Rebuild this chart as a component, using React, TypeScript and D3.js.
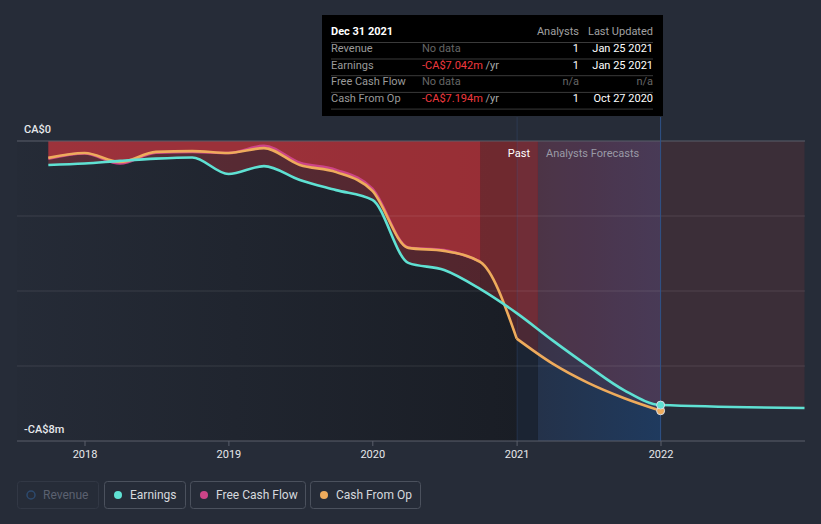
import React from 'react';
import * as d3 from 'd3';

// ---- data (values in CA$ millions) ----
const earningsDates = ['2017-09-30','2017-12-31','2018-03-31','2018-06-30','2018-09-30','2018-12-31','2019-03-31','2019-06-30','2019-09-30','2019-12-31','2020-03-31','2020-06-30','2020-09-30','2020-12-31','2021-03-31','2021-06-30','2021-09-30','2021-12-31','2022-12-31'];
const earningsValues = [-0.64,-0.6,-0.53,-0.47,-0.44,-0.88,-0.67,-1.04,-1.31,-1.57,-3.25,-3.44,-3.95,-4.59,-5.31,-6.0,-6.65,-7.042,-7.12];

const fcfDates = ['2017-09-30','2017-12-31','2018-03-31','2018-06-30','2018-09-30','2018-12-31','2019-03-31','2019-06-30','2019-09-30','2019-12-31','2020-03-31','2020-06-30','2020-09-30'];
const fcfValues = [-0.47,-0.33,-0.6,-0.31,-0.29,-0.32,-0.13,-0.58,-0.77,-1.27,-2.84,-2.91,-3.21];

const cfoDates = ['2017-09-30','2017-12-31','2018-03-31','2018-06-30','2018-09-30','2018-12-31','2019-03-31','2019-06-30','2019-09-30','2019-12-31','2020-03-31','2020-06-30','2020-09-30','2020-12-31','2021-03-31','2021-06-30','2021-09-30','2021-12-31'];
const cfoValues = [-0.45,-0.32,-0.56,-0.29,-0.27,-0.32,-0.19,-0.64,-0.83,-1.33,-2.85,-2.93,-3.23,-5.27,-5.93,-6.45,-6.86,-7.194];

const yearTicks = ['2018','2019','2020','2021','2022'];
const yTickValues = [0, -2, -4, -6, -8];
const yLabels = ['CA$0', '-CA$8m'];

const lastPastPoint = '2020-12-31';
const lastReported = '2020-09-30';
const yearStart2021 = '2021-01-01';
const today = '2021-02-23';
const hoverDate = '2021-12-31';

const legendItems = ['Revenue', 'Earnings', 'Free Cash Flow', 'Cash From Op'];

const tooltipRows = [
  { label: 'Revenue', value: 'No data', unit: '', analysts: '1', updated: 'Jan 25 2021', red: false, na: false },
  { label: 'Earnings', value: '-CA$7.042m', unit: ' /yr', analysts: '1', updated: 'Jan 25 2021', red: true, na: false },
  { label: 'Free Cash Flow', value: 'No data', unit: '', analysts: 'n/a', updated: 'n/a', red: false, na: true },
  { label: 'Cash From Op', value: '-CA$7.194m', unit: ' /yr', analysts: '1', updated: 'Oct 27 2020', red: true, na: false },
];

const C = {
  bg: '#262c38',
  earnings: '#5fe1d3',
  fcf: '#cc4488',
  cfo: '#eeab5c',
  red: '#e53b40',
  text: '#e6e8eb',
};

const parse = d3.timeParse('%Y-%m-%d');
type P = { d: Date; v: number };
const mk = (ds: string[], vs: number[]): P[] => ds.map((d, i) => ({ d: parse(d)!, v: vs[i] }));

export default function App() {
  const W = 821, H = 524;
  const left = 17, right = 805, top = 141, bottom = 441;
  const font = 'Roboto, "Open Sans", sans-serif';

  const x = d3.scaleTime()
    .domain([new Date(2018, 0, 1), new Date(2022, 0, 1)])
    .range([85, 661]);
  const y = d3.scaleLinear().domain([0, -8]).range([top, bottom]);

  const split = parse(lastPastPoint)!;
  const pieces = (pts: P[], doSplit: boolean) => {
    if (!doSplit) return [pts];
    const past = pts.filter(p => +p.d <= +split);
    const fc = pts.filter(p => +p.d >= +split);
    return fc.length > 1 ? [past, fc] : [past];
  };

  const earnings = mk(earningsDates, earningsValues);
  const fcf = mk(fcfDates, fcfValues);
  const cfo = mk(cfoDates, cfoValues);

  const line = d3.line<P>().x(p => x(p.d)).y(p => y(p.v)).curve(d3.curveMonotoneX);
  const area = d3.area<P>().x(p => x(p.d)).y0(y(0)).y1(p => y(p.v)).curve(d3.curveMonotoneX);

  const xLast = x(parse(lastReported)!);
  const x2021 = x(parse(yearStart2021)!);
  const xNow = x(parse(today)!);
  const xHover = x(parse(hoverDate)!);

  const eEnd = earnings.find(p => +p.d === +parse(hoverDate)!)!;
  const cEnd = cfo.find(p => +p.d === +parse(hoverDate)!)!;

  const E = { pts: earnings, color: C.earnings, split: false };
  const F = { pts: fcf, color: C.fcf, split: false };
  const O = { pts: cfo, color: C.cfo, split: true };

  const segments = [
    { id: 'segPast', x0: left, x1: xLast, op: 0.28, series: [E, F, O] },
    { id: 'segMid', x0: xLast, x1: xNow, op: 0.24, series: [E, O] },
    { id: 'segFc', x0: xNow, x1: right, op: 0.115, series: [E, O] },
  ];

  const legendBoxes = [
    { x: 17, w: 81 }, { x: 104, w: 81 }, { x: 190, w: 115 }, { x: 310, w: 110 },
  ];
  const legendColors = [null, C.earnings, C.fcf, C.cfo];

  const tx = 322, ty = 15, tw = 341, th = 101;
  const colLabel = 331, colValue = 422, colAnalysts = 579, colUpdated = 653;

  const lineSeries = [F, O, E];

  return (
    <svg width={W} height={H} style={{ position: 'absolute', left: 0, top: 0, display: 'block' }} fontFamily={font}>
      <defs>
        <linearGradient id="pastGrad" x1="0" x2="1" y1="0" y2="0">
          <stop offset="0" stopColor="#14171d" stopOpacity={0.05} />
          <stop offset="1" stopColor="#14171d" stopOpacity={0.7} />
        </linearGradient>
        <linearGradient id="fcGrad" x1="0" x2="1" y1="0" y2="0">
          <stop offset="0" stopColor="#24324a" />
          <stop offset="1" stopColor="#1f3a5e" />
        </linearGradient>
        {segments.map(s => (
          <clipPath id={s.id} key={s.id}>
            <rect x={s.x0} y={top} width={s.x1 - s.x0} height={bottom - top} />
          </clipPath>
        ))}
      </defs>
      <rect x={0} y={0} width={W} height={H} fill={C.bg} />

      {/* background regions */}
      <rect x={left} y={top} width={x2021 - left} height={bottom - top} fill="url(#pastGrad)" />
      <rect x={x2021} y={top} width={xNow - x2021} height={bottom - top} fill="#1b2433" />
      <rect x={xNow} y={top} width={xHover - xNow} height={bottom - top} fill="url(#fcGrad)" />

      {/* negative areas */}
      {segments.map(s => (
        <g key={s.id} clipPath={`url(#${s.id})`}>
          {s.series.map((ser, i) => (
            <g key={i}>
              {pieces(ser.pts, ser.split).map((pc, j) => (
                <path key={j} d={area(pc) || ''} fill={C.red} fillOpacity={s.op} />
              ))}
            </g>
          ))}
        </g>
      ))}

      {/* grid lines */}
      {yTickValues.slice(1, 4).map(v => (
        <line key={v} x1={left} x2={right} y1={y(v)} y2={y(v)} stroke="#ffffff" strokeOpacity={0.1} />
      ))}
      <line x1={left} x2={right} y1={y(0)} y2={y(0)} stroke="#5a5f6b" strokeWidth={1} />

      {/* vertical markers */}
      <line x1={x2021} x2={x2021} y1={117} y2={bottom} stroke="#3a5a8c" strokeOpacity={0.3} />
      <line x1={xHover} x2={xHover} y1={117} y2={bottom} stroke="#2f5288" strokeWidth={1} />

      {/* Past / Forecast labels */}
      <text x={xNow - 8} y={157} textAnchor="end" fontSize={11} fill="#ffffff">Past</text>
      <text x={xNow + 8} y={157} textAnchor="start" fontSize={11} fill="#9a9aa6">Analysts Forecasts</text>

      {/* lines */}
      {lineSeries.map((s, i) => (
        <g key={i}>
          {pieces(s.pts, s.split).map((pc, j) => (
            <path key={j} d={line(pc) || ''} fill="none" stroke={s.color} strokeWidth={2.6} strokeLinejoin="round" />
          ))}
        </g>
      ))}

      <circle cx={x(cEnd.d)} cy={y(cEnd.v)} r={4} fill={C.cfo} stroke="#d8dde5" strokeWidth={1} />
      <circle cx={x(eEnd.d)} cy={y(eEnd.v)} r={4} fill={C.earnings} stroke="#d8dde5" strokeWidth={1} />

      {/* y labels */}
      <text x={24} y={133} fontSize={11} fill={C.text} fontWeight={500}>{yLabels[0]}</text>
      <text x={24} y={433} fontSize={11} fill={C.text} fontWeight={500}>{yLabels[1]}</text>

      {/* x axis */}
      <line x1={left} x2={right} y1={bottom} y2={bottom} stroke="#5a5f6b" />
      {yearTicks.map(t => {
        const xv = x(new Date(+t, 0, 1));
        return (
          <g key={t}>
            <line x1={xv} x2={xv} y1={bottom} y2={bottom + 5} stroke="#5a5f6b" />
            <text x={xv} y={458} textAnchor="middle" fontSize={11} fill={C.text}>{t}</text>
          </g>
        );
      })}

      {/* legend */}
      {legendItems.map((name, i) => {
        const b = legendBoxes[i];
        const col = legendColors[i];
        return (
          <g key={name}>
            <rect x={b.x + 0.5} y={481.5} width={b.w} height={27} rx={3}
              fill="none" stroke={col ? '#4b515d' : '#323845'} />
            {col
              ? <circle cx={b.x + 14} cy={495} r={4} fill={col} />
              : <circle cx={b.x + 14} cy={495} r={4} fill="none" stroke="#2d4a6e" strokeWidth={1.5} />}
            <text x={b.x + 26} y={499} fontSize={12} fill={col ? '#d6d9de' : '#5b6170'}>{name}</text>
          </g>
        );
      })}

      {/* tooltip */}
      <rect x={tx} y={ty} width={tw} height={th} fill="#000000" />
      <text x={colLabel} y={35} fontSize={11} fontWeight={700} fill="#ffffff">Dec 31 2021</text>
      <text x={colAnalysts} y={35} fontSize={11} textAnchor="end" fill="#a0a0a0">Analysts</text>
      <text x={colUpdated} y={35} fontSize={11} textAnchor="end" fill="#a0a0a0">Last Updated</text>
      <line x1={colLabel} x2={colUpdated} y1={42.5} y2={42.5} stroke="#3a3a3a" />
      {tooltipRows.map((r, i) => {
        const by = 52 + i * 16.7;
        return (
          <g key={r.label}>
            <text x={colLabel} y={by} fontSize={11} fill="#9a9a9a">{r.label}</text>
            <text x={colValue} y={by} fontSize={11} fill={r.red ? '#f0393e' : '#666666'}>
              {r.value}
              {r.unit && <tspan fill="#a8a8a8">{r.unit}</tspan>}
            </text>
            <text x={colAnalysts} y={by} fontSize={11} textAnchor="end" fill={r.na ? '#666666' : '#ffffff'}>{r.analysts}</text>
            <text x={colUpdated} y={by} fontSize={11} textAnchor="end" fill={r.na ? '#666666' : '#ffffff'}>{r.updated}</text>
            <line x1={colLabel} x2={colUpdated} y1={by + 7} y2={by + 7} stroke="#3a3a3a" />
          </g>
        );
      })}
    </svg>
  );
}
